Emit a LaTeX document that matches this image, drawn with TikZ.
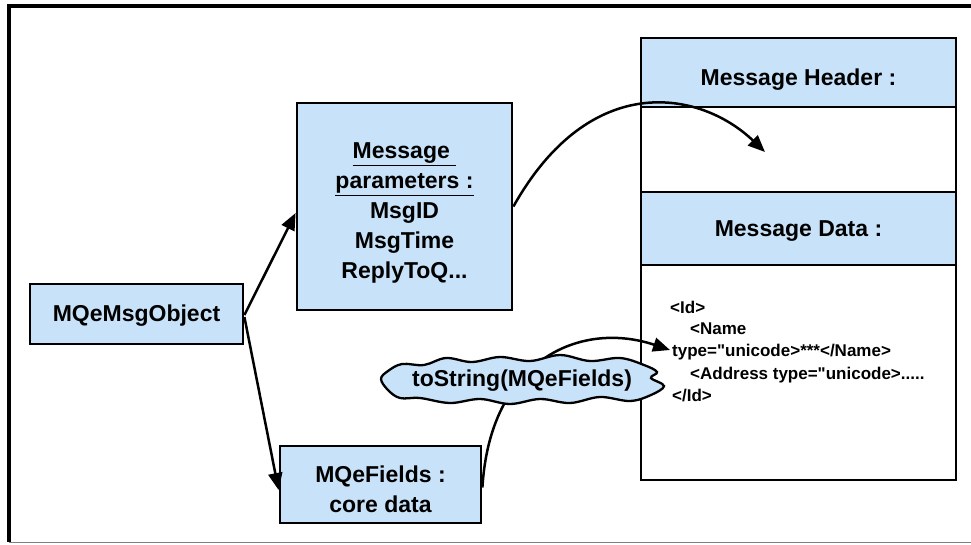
\documentclass[tikz,border=0pt]{standalone}
\usepackage{fontspec}
\setmainfont{Liberation Sans}
\newfontfamily\xmlfont{Liberation Sans}[Ligatures=TeXOff]
\usetikzlibrary{arrows.meta}
\definecolor{boxblue}{RGB}{200,227,249}
\begin{document}
\begin{tikzpicture}[x=1pt,y=-1pt,
  box/.style={draw=black,line width=2.8pt,fill=boxblue,inner sep=0pt},
  plain/.style={draw=black,line width=2.8pt,fill=white,inner sep=0pt},
  big/.style={font=\bfseries\fontsize{23}{30}\selectfont,align=center,inner sep=0pt},
  arr/.style={line width=2.5pt,-{Triangle[length=17pt,width=14pt]}},
  xml/.style={anchor=base west,inner sep=0pt,font=\xmlfont\bfseries\fontsize{17}{22}\selectfont}]
\useasboundingbox (0,0) rectangle (971,544);
% outer frame
\draw[line width=3.5pt] (971,6) -- (9,6) -- (9,542);
\draw[line width=1pt,gray] (9,542) -- (971,542);

% left side objects
\node[box,minimum width=213pt,minimum height=60pt] (obj) at (136.5,314) {};
\node[big] (objtxt) at (136.5,316) {MQeMsgObject};
\node[box,minimum width=215pt,minimum height=207pt] (params) at (404.5,206.5) {};
\node[big] (paramstxt) at (404.5,213)
  {\underline{Message\ }\\ \underline{parameters :}\\ MsgID\\ MsgTime\\ ReplyToQ...};
\node[box,minimum width=201pt,minimum height=77pt] (fields) at (380.5,484.5) {};
\node[big] (fieldstxt) at (380.5,489) {MQeFields :\\ core data};

% message layout column
\node[box,minimum width=315pt,minimum height=69pt] (header) at (798.5,72.5) {};
\node[big] (headertxt) at (798.5,80) {Message Header :};
\node[plain,minimum width=315pt,minimum height=85pt] (hdrbody) at (798.5,149.5) {};
\node[box,minimum width=315pt,minimum height=73pt] (data) at (798.5,228.5) {};
\node[big] (datatxt) at (798.5,231) {Message Data :};
\node[plain,minimum width=315pt,minimum height=215pt] (databody) at (798.5,372.5) {};

\node[xml] (l1) at (670,313) {<Id>};
\node[xml] (l2) at (690,334) {<Name};
\node[xml] (l3) at (672,356) {type="unicode>***</Name>};
\node[xml] (l4) at (690,379) {<Address type="unicode>.....};
\node[xml] (l5) at (672,401) {</Id>};

% connectors
\coordinate (hdrtip) at (765,152);
\coordinate (nametip) at (670,350);
\draw[arr] ([yshift=-1pt]obj.east) -- ([yshift=-6.5pt]params.west);
\draw[arr] ([yshift=-3pt]obj.east) -- ([yshift=-5.5pt]fields.west);
\draw[arr] (params.east) .. controls (590,70) and (700,90) .. (hdrtip);
\draw[arr] ([yshift=-3pt]fields.east) .. controls (490,360) and (580,320) .. (nametip);

% conversion cloud outline
\draw[line width=2.3pt,fill=boxblue] plot[smooth cycle,tension=0.6] coordinates {
  (381,379) (388,371) (402,364) (424,365) (446,358) (472,362) (500,357) (530,361)
  (560,355) (590,361) (620,358) (644,365) (657,372) (651,378) (664,386) (651,395)
  (630,401) (600,397) (570,403) (540,399) (510,404) (480,399) (450,403) (420,398)
  (400,398) (388,390)};
\node[big] (conv) at (522,381) {toString(MQeFields)};
\end{tikzpicture}
\end{document}
